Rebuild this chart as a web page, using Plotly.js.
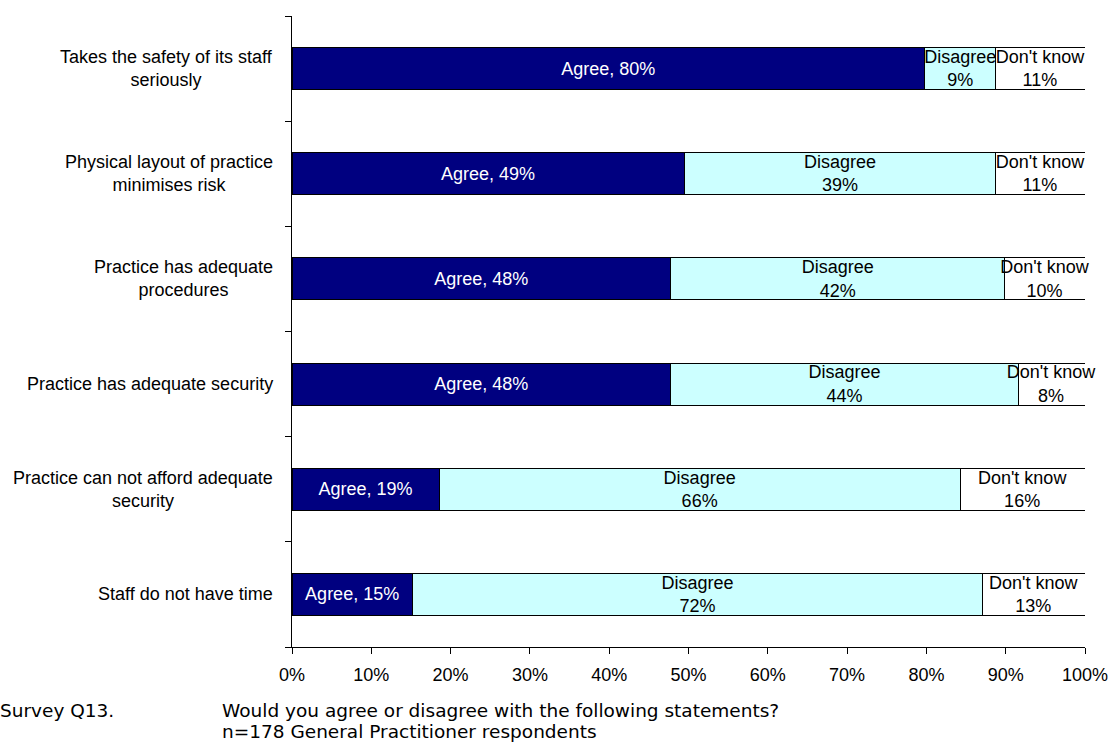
<!DOCTYPE html>
<html>
<head>
<meta charset="utf-8">
<script src="https://cdn.plot.ly/plotly-3.0.1.min.js"></script>
<style>html,body{margin:0;padding:0;background:#fff;}#chart{width:1109px;height:745px;}</style>
</head>
<body>
<div id="chart"></div>
<script>
// Survey respondents (n=178), counts per answer
const respondents = 178;
const categories = [
  "Takes the safety of its staff<br>seriously",
  "Physical layout of practice<br>minimises risk",
  "Practice has adequate<br>procedures",
  "Practice has adequate security",
  "Practice can not afford adequate<br>security",
  "Staff do not have time"
];
const agreeCounts    = [142, 88, 85, 85, 33, 27];
const disagreeCounts = [16, 70, 75, 78, 117, 128];
const dontKnowCounts = [20, 20, 18, 15, 28, 23];
const xTickVals = [0, 0.1, 0.2, 0.3, 0.4, 0.5, 0.6, 0.7, 0.8, 0.9, 1.0];
const footerLeft = "Survey Q13.";
const footerLine1 = "Would you agree or disagree with the following statements?";
const footerLine2 = "n=178 General Practitioner respondents";

const toShare = arr => arr.map(v => v / respondents);
const pct = v => Math.round(100 * v / respondents) + "%";
const ARIAL = 'Liberation Sans, Arial, sans-serif';
const FS = 18;

const common = {
  type: 'bar', orientation: 'h', y: categories, width: 0.4,
  textposition: 'inside', insidetextanchor: 'middle', textangle: 0,
  cliponaxis: false, hoverinfo: 'none', showlegend: false
};

const traces = [
  Object.assign({}, common, {
    name: 'Agree', x: toShare(agreeCounts),
    text: agreeCounts.map(v => "Agree, " + pct(v)),
    marker: {color: '#000080', line: {color: '#000000', width: 1}},
    insidetextfont: {family: ARIAL, size: FS, color: '#ffffff'}
  }),
  Object.assign({}, common, {
    name: 'Disagree', x: toShare(disagreeCounts),
    text: disagreeCounts.map(v => "Disagree<br>" + pct(v)),
    marker: {color: '#ccffff', line: {color: '#000000', width: 1}},
    insidetextfont: {family: ARIAL, size: FS, color: '#000000'}
  }),
  Object.assign({}, common, {
    name: "Don't know", x: toShare(dontKnowCounts),
    text: dontKnowCounts.map(v => "Don't know<br>" + pct(v)),
    marker: {color: '#ffffff', line: {color: '#000000', width: 1}},
    insidetextfont: {family: ARIAL, size: FS, color: '#000000'}
  })
];

const annotations = categories.map(c => ({
  xref: 'paper', yref: 'y', x: 0, y: c, xanchor: 'right', yanchor: 'middle',
  xshift: -17, align: 'center', showarrow: false, text: c,
  font: {family: ARIAL, size: FS, color: '#000000'}
}));
const footFont = {family: 'DejaVu Sans, Verdana, sans-serif', size: 18.5, color: '#000000'};
[[footerLeft, -294, -63], [footerLine1, -72, -63], [footerLine2, -72, -84]].forEach(f => {
  annotations.push({
    xref: 'paper', yref: 'paper', x: 0, y: 0, xanchor: 'left', yanchor: 'middle',
    xshift: f[1], yshift: f[2], align: 'left', showarrow: false, text: f[0], font: footFont
  });
});

const layout = {
  width: 1109, height: 745,
  margin: {l: 292, r: 24, t: 16, b: 98, pad: 0},
  paper_bgcolor: '#ffffff', plot_bgcolor: '#ffffff',
  barmode: 'stack', bargap: 0.6,
  uniformtext: {mode: 'show', minsize: FS},
  font: {family: ARIAL, size: FS, color: '#000000'},
  xaxis: {
    range: [0, 1], tickvals: xTickVals, tickformat: '.0%',
    showgrid: false, zeroline: false, showline: true, linecolor: '#000000', linewidth: 1,
    ticks: 'outside', ticklen: 6, tickcolor: '#000000', tickwidth: 1,
    ticklabelstandoff: 5,
    tickfont: {family: ARIAL, size: FS, color: '#000000'},
    fixedrange: true
  },
  yaxis: {
    type: 'category', categoryorder: 'array', categoryarray: categories.slice().reverse(),
    range: [-0.5, categories.length - 0.5],
    showticklabels: false, showgrid: false, zeroline: false,
    showline: true, linecolor: '#000000', linewidth: 1,
    ticks: 'outside', tickson: 'boundaries', ticklen: 6, tickcolor: '#000000', tickwidth: 1,
    fixedrange: true
  },
  annotations: annotations
};

Plotly.newPlot('chart', traces, layout, {displayModeBar: false, staticPlot: true});
</script>
</body>
</html>
